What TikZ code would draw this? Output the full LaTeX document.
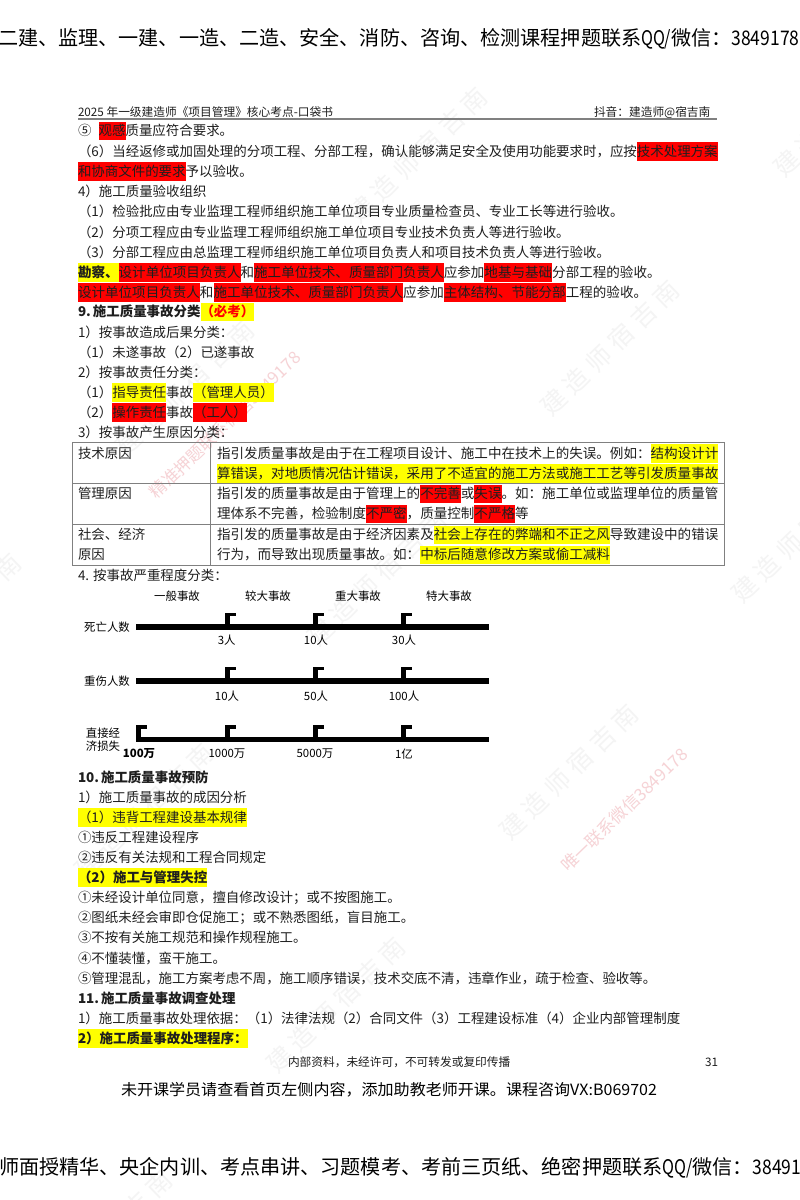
\documentclass[tikz,border=0pt]{standalone}
\usepackage{fontspec}
\usepackage{graphicx}
\setmainfont{Noto Sans CJK SC}
\newfontfamily\wmfont[LetterSpace=25]{Noto Sans CJK SC}
\definecolor{bodyink}{HTML}{1E1E1E}
\definecolor{hly}{HTML}{FFFF00}
\definecolor{hlr}{HTML}{FF0000}
\definecolor{wmgray}{HTML}{F4F4F4}
\definecolor{wmred}{HTML}{F6D3D6}
\definecolor{rulegray}{HTML}{808080}
\newcommand{\hstrut}{\rule[-4.5pt]{0pt}{18.5pt}}
\newcommand{\hy}[1]{{\setlength{\fboxsep}{0pt}\colorbox{hly}{\hstrut #1}}}
\newcommand{\hr}[1]{{\setlength{\fboxsep}{0pt}\colorbox{hlr}{\hstrut #1}}}
\newcommand{\tl}[4]{\node[txt] (#1) at (#3,#2+5) {#4};}
\newcommand{\tw}[4]{\node[txtw] (#1) at (#3,#2+5) {#4};}
\newcommand{\nar}[1]{\scalebox{0.8}[1]{#1}}
\newcommand{\narb}[1]{\scalebox{0.87}[1]{#1}}
\tikzset{
  txt/.style={anchor=base west,inner sep=0pt,outer sep=0pt,text=bodyink,font=\fontsize{13.45pt}{16pt}\selectfont},
  txtw/.style={txt,font=\fontsize{13.55pt}{16pt}\selectfont},
  small/.style={anchor=base west,inner sep=0pt,outer sep=0pt,text=bodyink,font=\fontsize{11.7pt}{13pt}\selectfont},
  lab/.style={anchor=center,inner sep=0pt,text=black,font=\fontsize{11.4pt}{13pt}\selectfont},
  wmark/.style={anchor=center,inner sep=0pt,text=wmgray,rotate=44,font=\wmfont\fontsize{25pt}{28pt}\selectfont},
  wmarkr/.style={anchor=center,inner sep=0pt,text=wmred,rotate=44,font=\fontsize{17pt}{20pt}\selectfont},
  banner/.style={anchor=base west,inner sep=0pt,text=black,font=\fontsize{20.1pt}{24pt}\selectfont},
  tbl/.style={draw=rulegray,line width=1pt},
  bar/.style={fill=black,draw=none}
}
\begin{document}
\begin{tikzpicture}[x=1pt,y=-1pt]
\path[use as bounding box,clip] (0,0) rectangle (800,1200);
\fill[white] (0,0) rectangle (800,1200);
% watermarks
\foreach \i/\wx/\wy in {1/418/155,2/610/348,3/801/535,4/843/109,5/185/388,6/-48/621,7/377/578,8/144/811,9/569/772,10/336/1005,11/103/1238}{
  \node[wmark] (wm\i) at (\wx,\wy) {建造师宿吉南};
}
\node[wmarkr] (wmr1) at (225,425) {精准押题联系微信3849178};
\node[wmarkr] (wmr2) at (624,810) {唯一联系微信3849178};
% banners
\node[banner] (topbanner) at (-2,45) {二建、监理、一建、一造、二造、安全、消防、咨询、检测课程押题联系\nar{QQ/}微信：\narb{3849178}};
\node[banner] (botbanner) at (-1,1174) {师面授精华、央企内训、考点串讲、习题模考、考前三页纸、绝密押题联系\nar{QQ/}微信：\narb{3849178}};
% header
\node[small] (hdl) at (78,116) {2025 年一级建造师《项目管理》核心考点-口袋书};
\node[small] (hdr) at (594,116) {抖音：建造师@宿吉南};
\fill[rulegray] (78,118.4) rectangle (717,120.4);
% body
\tl{l1}{130.5}{78}{⑤\hspace{7.2pt}\hr{观感}质量应符合要求。}
\tl{l2}{151}{78}{（6）当经返修或加固处理的分项工程、分部工程，确认能够满足安全及使用功能要求时，应按\hr{技术处理方案}}
\tl{l3}{171}{78}{\hr{和协商文件的要求}予以验收。}
\tl{l4}{191.5}{78}{4）施工质量验收组织}
\tl{l5}{211.5}{78}{（1）检验批应由专业监理工程师组织施工单位项目专业质量检查员、专业工长等进行验收。}
\tl{l6}{232}{78}{（2）分项工程应由专业监理工程师组织施工单位项目专业技术负责人等进行验收。}
\tl{l7}{252}{78}{（3）分部工程应由总监理工程师组织施工单位项目负责人和项目技术负责人等进行验收。}
\tw{l8}{272}{78}{\hy{\bfseries 勘察、}\hr{设计单位项目负责人}和\hr{施工单位技术、质量部门负责人}应参加\hr{地基与基础}分部工程的验收。}
\tw{l9}{292}{78}{\hr{设计单位项目负责人}和\hr{施工单位技术、质量部门负责人}应参加\hr{主体结构、节能分部}工程的验收。}
\tl{l10}{311.5}{78}{\bfseries 9.\hspace{2pt}施工质量事故分类\hy{\color{hlr}（必考）}}
\tl{l11}{332}{78}{1）按事故造成后果分类：}
\tl{l12}{352}{78}{（1）未遂事故（2）已遂事故}
\tl{l13}{372}{78}{2）按事故责任分类：}
\tl{l14}{392}{78}{（1）\hy{指导责任}事故\hy{（管理人员）}}
\tl{l15}{412}{78}{（2）\hr{操作责任}事故\hr{（工人）}}
\tl{l16}{432}{78}{3）按事故产生原因分类：}
% table
\draw[tbl] (72,442) rectangle (724,565);
\draw[tbl] (72,483) -- (724,483);
\draw[tbl] (72,524) -- (724,524);
\draw[tbl] (210,442) -- (210,565);
\tl{t1}{453}{78}{技术原因}
\tl{t2}{493.5}{78}{管理原因}
\tl{t3}{534.5}{78}{社会、经济}
\tl{t4}{554.5}{78}{原因}
\tw{c1}{453}{217}{指引发质量事故是由于在工程项目设计、施工中在技术上的失误。例如：\hy{结构设计计}}
\tw{c2}{473}{217}{\hy{算错误，对地质情况估计错误，采用了不适宜的施工方法或施工工艺等引发质量事故}}
\tw{c3}{493.5}{217}{指引发的质量事故是由于管理上的\hr{不完善}或\hr{失误}。如：施工单位或监理单位的质量管}
\tw{c4}{513.5}{217}{理体系不完善，检验制度\hr{不严密}，质量控制\hr{不严格}等}
\tw{c5}{534.5}{217}{指引发的质量事故是由于经济因素及\hy{社会上存在的弊端和不正之风}导致建设中的错误}
\tw{c6}{554.5}{217}{行为，而导致出现质量事故。如：\hy{中标后随意修改方案或偷工减料}}
\tl{l17}{575.5}{78}{4. 按事故严重程度分类：}
% severity axes
\foreach \ax/\ay/\at/\ah in {1/626.7/612.7/6,2/681/666.7/6,3/739.3/725.3/5.6}{
  \fill[bar] (135.7,\ay-\ah/2) rectangle (489,\ay+\ah/2);
  \foreach \tx in {225,312.7,400.7}{
    \fill[bar] (\tx,\at) rectangle (\tx+5.2,\ay);
    \fill[bar] (\tx,\at) rectangle (\tx+10.8,\at+3.6);
  }
}
\fill[bar] (135.7,725.3) rectangle (140.9,739.3);
\fill[bar] (135.7,725.3) rectangle (146.9,728.9);
\node[lab] (g1) at (177,596) {一般事故};
\node[lab] (g2) at (268,596) {较大事故};
\node[lab] (g3) at (358,596) {重大事故};
\node[lab] (g4) at (449,596) {特大事故};
\node[lab] (a1) at (107,627) {死亡人数};
\node[lab] (a2) at (107,681) {重伤人数};
\node[lab] (a3) at (103,732.7) {直接经};
\node[lab] (a4) at (103,745.7) {济损失};
\node[lab] (v11) at (226.7,640) {3人};
\node[lab] (v12) at (316,640) {10人};
\node[lab] (v13) at (404,640) {30人};
\node[lab] (v21) at (227,695.7) {10人};
\node[lab] (v22) at (316,695.7) {50人};
\node[lab] (v23) at (404,695.7) {100人};
\node[lab,font=\fontsize{11.4pt}{13pt}\selectfont\bfseries] (v30) at (139,754) {100万};
\node[lab] (v31) at (227,754) {1000万};
\node[lab] (v32) at (315,754) {5000万};
\node[lab] (v33) at (404,754) {1亿};
% lower body
\tl{m1}{777}{78}{\bfseries 10.\hspace{2pt}施工质量事故预防}
\tl{m2}{797}{78}{1）施工质量事故的成因分析}
\tl{m3}{817}{78}{\hy{（1）违背工程建设基本规律}}
\tl{m4}{837}{78}{①违反工程建设程序}
\tl{m5}{857}{78}{②违反有关法规和工程合同规定}
\tl{m6}{877}{78}{\hy{\bfseries （2）施工与管理失控}}
\tl{m7}{897}{78}{①未经设计单位同意，擅自修改设计；或不按图施工。}
\tl{m8}{917}{78}{②图纸未经会审即仓促施工；或不熟悉图纸，盲目施工。}
\tl{m9}{937.5}{78}{③不按有关施工规范和操作规程施工。}
\tl{m10}{958}{78}{④不懂装懂，蛮干施工。}
\tl{m11}{978}{78}{⑤管理混乱，施工方案考虑不周，施工顺序错误，技术交底不清，违章作业，疏于检查、验收等。}
\tl{m12}{998}{78}{\bfseries 11.\hspace{2pt}施工质量事故调查处理}
\tl{m13}{1018}{78}{1）施工质量事故处理依据：（1）法律法规（2）合同文件（3）工程建设标准（4）企业内部管理制度}
\tl{m14}{1038}{78}{\hy{\bfseries 2）施工质量事故处理程序：}}
% footer
\node[small] (ft1) at (288,1066.5) {内部资料，未经许可，不可转发或复印传播};
\node[small] (ft2) at (705,1066.5) {31};
\node[txt,text=black] (ft3) at (121,1095.5) {\resizebox{536pt}{\height}{\fontsize{15.5pt}{18pt}\selectfont 未开课学员请查看首页左侧内容，添加助教老师开课。课程咨询VX:B069702}};
\end{tikzpicture}
\end{document}
